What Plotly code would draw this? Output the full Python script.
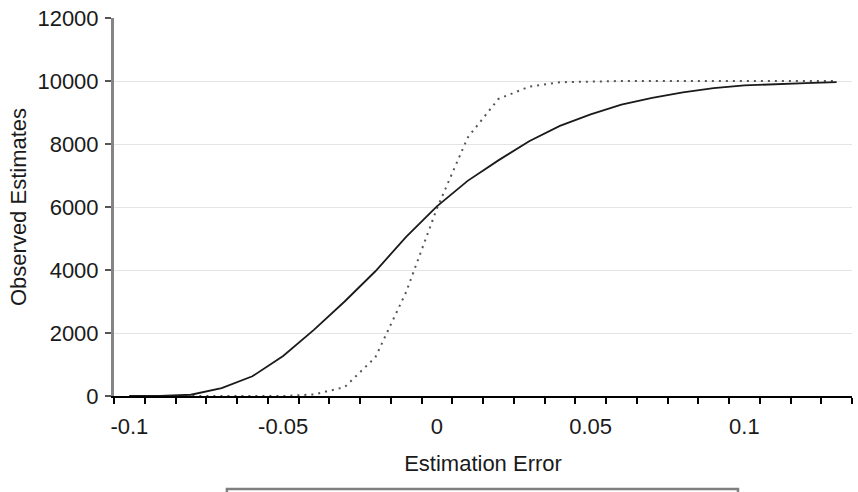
import plotly.graph_objects as go

categories = ["-0.1", "-0.09", "-0.08", "-0.07", "-0.06", "-0.05", "-0.04", "-0.03",
              "-0.02", "-0.01", "0", "0.01", "0.02", "0.03", "0.04", "0.05",
              "0.06", "0.07", "0.08", "0.09", "0.1", "0.11", "0.12", "0.13"]
solid_values = [0, 5, 40, 250, 626, 1270, 2100, 3000, 3960, 5050, 6020, 6830,
                7480, 8090, 8575, 8940, 9250, 9465, 9640, 9775, 9860, 9905, 9935, 9965]
dotted_values = [0, 0, 0, 0, 0, 0, 50, 280, 1230, 3300, 5950, 8200,
                 9430, 9820, 9960, 9990, 10000, 10000, 10000, 10000, 10000, 10000, 10000, 10000]
y_ticks = [0, 2000, 4000, 6000, 8000, 10000, 12000]
y_tick_labels = ["0", "2000", "4000", "6000", "8000", "10000", "12000"]

FONT = "Liberation Sans, Arial, Helvetica, sans-serif"
TXT = "#1a1a1a"
FS = 22

fig = go.Figure()
fig.add_trace(go.Scatter(x=categories, y=dotted_values, mode="lines",
                         line=dict(color="#555555", width=2, dash="2px,5px"),
                         showlegend=False))
fig.add_trace(go.Scatter(x=categories, y=solid_values, mode="lines",
                         line=dict(color="#1a1a1a", width=1.8),
                         showlegend=False))

fig.update_layout(
    width=858, height=492,
    margin=dict(l=114, r=6, t=12, b=96),
    paper_bgcolor="white", plot_bgcolor="white",
    font=dict(family=FONT, size=FS, color=TXT),
    xaxis=dict(type="category", range=[-0.5, 23.5], tickson="boundaries",
               ticks="outside", ticklen=6, tickwidth=1.5, tickcolor="#000000",
               showline=True, linecolor="#000000", linewidth=2,
               ticklabelstep=5, tickangle=0, showgrid=False, zeroline=False,
               tickfont=dict(size=FS, color=TXT), ticklabelstandoff=10,
               title=dict(text="Estimation Error", font=dict(size=FS, color=TXT), standoff=17)),
    yaxis=dict(range=[0, 12000], tickmode="array", tickvals=y_ticks, ticktext=y_tick_labels,
               ticklabeloverflow="allow",
               showgrid=True, gridcolor="#e4e4e4",
               gridwidth=1.2, showline=True, linecolor="#858585", linewidth=3,
               ticks="outside", ticklen=6, tickwidth=1.5, tickcolor="#555555",
               zeroline=False, tickfont=dict(size=FS, color=TXT), ticklabelstandoff=2,
               title=dict(text="Observed Estimates", font=dict(size=FS, color=TXT), standoff=5)),
    shapes=[dict(type="rect", xref="paper", yref="paper",
                 x0=0.153, x1=0.8455, y0=-0.40, y1=-0.246,
                 line=dict(color="#7f7f7f", width=2.5), fillcolor="white", layer="above")],
)

fig.write_html("out.html")
